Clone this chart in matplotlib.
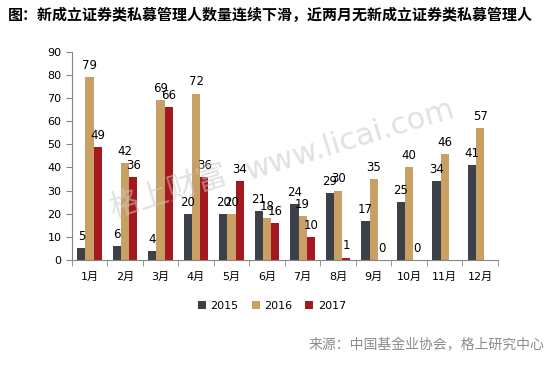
import numpy as np
import matplotlib
matplotlib.use("Agg")
import matplotlib.pyplot as plt

plt.rcParams['font.family'] = ['DejaVu Sans', 'Noto Sans CJK SC']

months = ['1月', '2月', '3月', '4月', '5月', '6月', '7月', '8月', '9月', '10月', '11月', '12月']
v2015 = [5, 6, 4, 20, 20, 21, 24, 29, 17, 25, 34, 41]
v2016 = [79, 42, 69, 72, 20, 18, 19, 30, 35, 40, 46, 57]
v2017 = [49, 36, 66, 36, 34, 16, 10, 1, 0, 0, None, None]
series = [('2015', v2015, '#3c4048'), ('2016', v2016, '#c9a064'), ('2017', v2017, '#a3191f')]

fig = plt.figure(figsize=(5.52, 3.66), dpi=100)
ax = fig.add_axes([0.130, 0.290, 0.772, 0.568])

x = np.arange(len(months))
w = 0.23
for i, (name, vals, col) in enumerate(series):
    pos = x + (i - 1) * w
    for xp, v in zip(pos, vals):
        if v is None:
            continue
        ax.bar(xp, v, w, color=col, label=name if xp == pos[0] else None)
        ax.text(xp, v + 2.2, str(v), ha='center', va='bottom', fontsize=8.5, color='black')

ax.set_xlim(-0.5, len(months) - 0.5)
ax.set_ylim(0, 90)
ax.set_yticks(range(0, 91, 10))
ax.set_xticks(x)
ax.set_xticklabels(months, fontsize=8)
ax.set_xticks(np.arange(-0.5, len(months)), minor=True)
ax.tick_params(axis='x', which='major', length=0, pad=9)
ax.tick_params(axis='x', which='minor', length=4, color='#868686')
ax.tick_params(axis='y', labelsize=8, length=4, color='#868686')
for s in ['top', 'right']:
    ax.spines[s].set_visible(False)
for s in ['left', 'bottom']:
    ax.spines[s].set_color('#868686')

ax.legend(loc='upper center', bbox_to_anchor=(0.47, -0.15), ncol=3, frameon=False,
          fontsize=8, handlelength=0.7, handleheight=0.7, handletextpad=0.4, columnspacing=1.2)

fig.text(0.015, 0.958, '图：新成立证券类私募管理人数量连续下滑，近两月无新成立证券类私募管理人',
         fontsize=10.8, fontweight='bold', ha='left', va='center')
fig.text(0.987, 0.058, '来源：中国基金业协会，格上研究中心', fontsize=10, color='#8c8c8c',
         ha='right', va='center')

# watermark
fig.text(168 / 552, 1 - 192 / 366, '格上财富', fontsize=22, color='#c8c8c8', alpha=0.55,
         rotation=17, ha='center', va='center', zorder=10)
fig.text(350 / 552, 1 - 140 / 366, 'www.licai.com', fontsize=22, color='#c8c8c8', alpha=0.55,
         rotation=17, ha='center', va='center', zorder=10)

fig.savefig('out.png', dpi=100)
